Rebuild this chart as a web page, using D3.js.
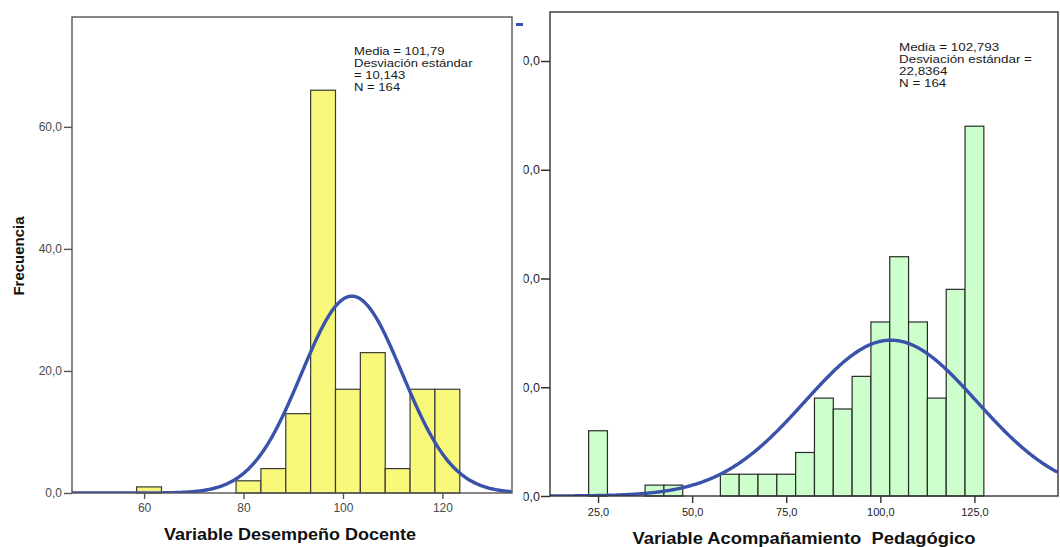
<!DOCTYPE html>
<html>
<head>
<meta charset="utf-8">
<script src="https://cdn.jsdelivr.net/npm/d3@7"></script>
<style>
  html, body { margin: 0; padding: 0; background: #fff; }
  svg { display: block; font-family: "Liberation Sans", Arial, sans-serif; }
</style>
</head>
<body>
<svg id="chart" width="1060" height="547"></svg>
<script>
// ---------------- data ----------------
const binWidth = 5;
// Left histogram: Variable Desempeño Docente (bin centres and frequencies)
const leftCenters = [61, 81, 86, 91, 96, 101, 106, 111, 116, 121];
const leftCounts  = [1, 2, 4, 13, 66, 17, 23, 4, 17, 17];
const leftMean = 101.79, leftSd = 10.143, leftN = 164;
const leftXTicks = [60, 80, 100, 120];
const leftXTickLabels = ["60", "80", "100", "120"];
const leftYTicks = [0, 20, 40, 60];
const leftYTickLabels = ["0,0", "20,0", "40,0", "60,0"];
const leftStatLines = ["Media = 101,79", "Desviación estándar", "= 10,143", "N = 164"];
const leftXTitle = "Variable Desempeño Docente";
const leftYTitle = "Frecuencia";

// Right histogram: Variable Acompañamiento Pedagógico
const rightCenters = [25, 40, 45, 60, 65, 70, 75, 80, 85, 90, 95, 100, 105, 110, 115, 120, 125];
const rightCounts  = [6, 1, 1, 2, 2, 2, 2, 4, 9, 8, 11, 16, 22, 16, 9, 19, 34];
const rightMean = 102.793, rightSd = 22.8364, rightN = 164;
const rightXTicks = [25, 50, 75, 100, 125];
const rightXTickLabels = ["25,0", "50,0", "75,0", "100,0", "125,0"];
const rightYTicks = [0, 10, 20, 30, 40];
const rightYTickLabels = ["0,0", "10,0", "20,0", "30,0", "40,0"];
const rightStatLines = ["Media = 102,793", "Desviación estándar =", "22,8364", "N = 164"];
const rightXTitle = "Variable Acompañamiento\u00a0\u00a0Pedagógico";

// ---------------- drawing ----------------
const svg = d3.select("#chart");
const defs = svg.append("defs");
const curveColor = "#3a52aa";

function normalCurve(mean, sd, n, domain) {
  const k = n * binWidth / (sd * Math.sqrt(2 * Math.PI));
  return d3.range(domain[0], domain[1] + 0.01, 0.2).map(v => [v, k * Math.exp(-0.5 * ((v - mean) / sd) ** 2)]);
}

function panel(g, cfg) {
  const x = d3.scaleLinear().domain(cfg.xDomain).range([cfg.x0, cfg.x1]);
  const y = d3.scaleLinear().domain(cfg.yDomain).range([cfg.y1, cfg.y0]);

  const clipId = cfg.id + "-clip";
  defs.append("clipPath").attr("id", clipId)
    .append("rect").attr("x", cfg.x0).attr("y", cfg.y0)
    .attr("width", cfg.x1 - cfg.x0).attr("height", cfg.y1 - cfg.y0);

  // bars
  g.append("g").selectAll("rect").data(cfg.centers).join("rect")
    .attr("x", d => x(d - binWidth / 2))
    .attr("width", d => x(d + binWidth / 2) - x(d - binWidth / 2))
    .attr("y", (d, i) => y(cfg.counts[i]))
    .attr("height", (d, i) => y(0) - y(cfg.counts[i]))
    .attr("fill", cfg.barFill)
    .attr("stroke", cfg.barStroke)
    .attr("stroke-width", 1.2);

  // normal curve
  const line = d3.line().x(d => x(d[0])).y(d => y(d[1]));
  g.append("path")
    .datum(normalCurve(cfg.mean, cfg.sd, cfg.n, cfg.xDomain))
    .attr("clip-path", `url(#${clipId})`)
    .attr("d", line)
    .attr("fill", "none")
    .attr("stroke", curveColor)
    .attr("stroke-width", 3.4);

  // frame
  g.append("rect")
    .attr("x", cfg.x0).attr("y", cfg.y0)
    .attr("width", cfg.x1 - cfg.x0).attr("height", cfg.y1 - cfg.y0)
    .attr("fill", "none").attr("stroke", cfg.frameColor).attr("stroke-width", 1.4);

  // axes
  const xa = g.append("g").attr("transform", `translate(0,${cfg.y1})`)
    .call(d3.axisBottom(x).tickValues(cfg.xTicks)
      .tickFormat((d, i) => cfg.xTickLabels[i])
      .tickSize(cfg.xTickSize).tickPadding(cfg.xTickPad).tickSizeOuter(0));
  const ya = g.append("g").attr("transform", `translate(${cfg.x0},0)`)
    .call(d3.axisLeft(y).tickValues(cfg.yTicks)
      .tickFormat((d, i) => cfg.yTickLabels[i])
      .tickSize(cfg.yTickSize).tickPadding(cfg.yTickPad).tickSizeOuter(0));
  [xa, ya].forEach((a, k) => {
    a.select(".domain").remove();
    a.selectAll("line").attr("stroke", cfg.frameColor).attr("stroke-width", 1.4);
    a.selectAll("text").attr("fill", cfg.tickColor)
      .style("font-size", (k === 0 ? cfg.xTickFont : cfg.yTickFont) + "px")
      .style("font-family", '"Liberation Sans", Arial, sans-serif');
  });

  // statistics text
  const st = g.append("g").attr("transform", `translate(${cfg.statX},0) scale(${cfg.statSx},1)`);
  st.selectAll("text").data(cfg.statLines).join("text")
    .attr("x", 0)
    .attr("y", (d, i) => cfg.statY + i * cfg.statDy)
    .attr("fill", "#1a1a1a")
    .style("font-size", "11px")
    .text(d => d);

  // x title
  g.append("text")
    .attr("x", cfg.titleX).attr("y", cfg.titleY)
    .attr("text-anchor", "middle")
    .attr("textLength", cfg.titleLen).attr("lengthAdjust", "spacingAndGlyphs")
    .attr("fill", "#111")
    .style("font-size", cfg.titleFont + "px").style("font-weight", "bold")
    .text(cfg.xTitle);
}

// Right panel (partly hidden behind the left one)
defs.append("clipPath").attr("id", "rightVisible")
  .append("rect").attr("x", 523.5).attr("y", 0).attr("width", 537).attr("height", 547);
const gR = svg.append("g").attr("clip-path", "url(#rightVisible)");
panel(gR, {
  id: "right", x0: 550, x1: 1058, y0: 12, y1: 496,
  xDomain: [12.24, 147.2], yDomain: [0, 44.5],
  centers: rightCenters, counts: rightCounts,
  mean: rightMean, sd: rightSd, n: rightN,
  barFill: "#ccffcc", barStroke: "#2a2a2a", frameColor: "#333",
  xTicks: rightXTicks, xTickLabels: rightXTickLabels,
  yTicks: rightYTicks, yTickLabels: rightYTickLabels,
  xTickSize: 7, xTickPad: 5, yTickSize: 9, yTickPad: 1,
  tickColor: "#222", xTickFont: 11, yTickFont: 12.5,
  statLines: rightStatLines, statX: 899, statY: 51, statDy: 12, statSx: 1.22,
  xTitle: rightXTitle, titleX: 804, titleY: 543.5, titleLen: 343, titleFont: 16
});

// Left panel
const gL = svg.append("g");
panel(gL, {
  id: "left", x0: 72, x1: 512, y0: 17, y1: 493,
  xDomain: [45.5, 134], yDomain: [0, 78],
  centers: leftCenters, counts: leftCounts,
  mean: leftMean, sd: leftSd, n: leftN,
  barFill: "#f8f87a", barStroke: "#3a3a3a", frameColor: "#555",
  xTicks: leftXTicks, xTickLabels: leftXTickLabels,
  yTicks: leftYTicks, yTickLabels: leftYTickLabels,
  xTickSize: 6, xTickPad: 4.5, yTickSize: 8, yTickPad: 2,
  tickColor: "#4a4a4a", xTickFont: 12, yTickFont: 12,
  statLines: leftStatLines, statX: 354, statY: 55.5, statDy: 11.8, statSx: 1.19,
  xTitle: leftXTitle, titleX: 290, titleY: 540, titleLen: 252, titleFont: 17
});

// y title of the left panel
gL.append("text")
  .attr("transform", "translate(23.5,256) rotate(-90)")
  .attr("text-anchor", "middle")
  .attr("fill", "#111")
  .style("font-size", "15px").style("font-weight", "bold")
  .text(leftYTitle);

// small blue legend remnant between the panels
svg.append("rect").attr("x", 516).attr("y", 23).attr("width", 7).attr("height", 3).attr("fill", curveColor);
</script>
</body>
</html>
